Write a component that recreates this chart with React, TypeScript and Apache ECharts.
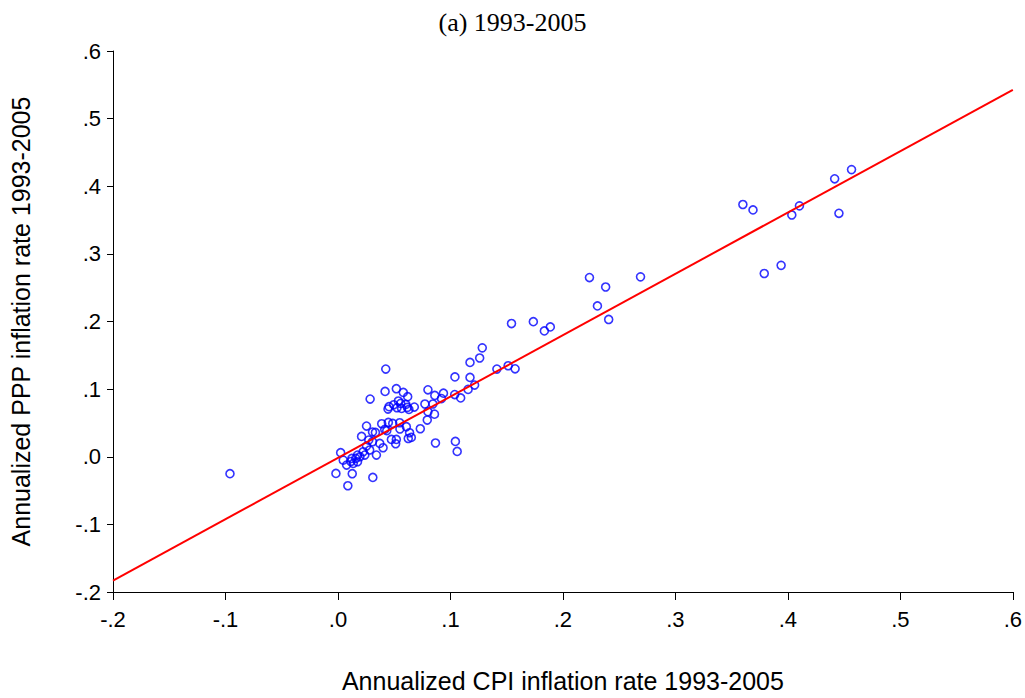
import React, { useEffect, useRef } from "react";
import * as echarts from "echarts";

// Annualized CPI inflation rate (x) vs annualized PPP inflation rate (y), 1993-2005
const cpiRates: number[] = [
  -0.096,
  0.2236, 0.238, 0.2307, 0.2407, 0.269, 0.36, 0.369, 0.379, 0.394, 0.4035, 0.4103, 0.4416, 0.4566, 0.4454,
  0.1543, 0.1737, 0.1835, 0.1888, 0.1283, 0.126, 0.1174, 0.104, 0.1174, 0.1215, 0.1157, 0.1413, 0.1513, 0.1575,
  0.08, 0.0861, 0.0938, 0.1038, 0.1091, 0.092, 0.0773, 0.0844, 0.08, 0.0858, 0.0794, 0.0679, 0.0732, 0.0652,
  0.0867, 0.1044, 0.106, 0.0637, 0.0608,
  0.0425, 0.0286, 0.0419, 0.0519, 0.0581, 0.062, 0.0537, 0.0558, 0.0496, 0.0454, 0.0445, 0.0525, 0.0566,
  0.0617, 0.0631, 0.0604,
  0.0389, 0.0448, 0.0487, 0.0549, 0.0551, 0.0416, 0.0254, 0.0307, 0.0333, 0.021, 0.0274, 0.0307, 0.0372,
  0.0401, 0.0475, 0.0519, 0.0513, 0.0254, 0.0224, 0.0342, 0.0024, 0.0047, 0.0077, 0.0124, 0.0136, 0.0159,
  0.0174, 0.0195, 0.0174, 0.0239, -0.0018, 0.0127, 0.0088, 0.031, 0.0434, 0.0115, 0.0625, 0.0282,
];
const pppRates: number[] = [
  -0.025,
  0.265, 0.251, 0.223, 0.203, 0.266, 0.373, 0.365, 0.271, 0.283, 0.3575, 0.371, 0.411, 0.4246, 0.36,
  0.197, 0.1997, 0.186, 0.192, 0.161, 0.146, 0.1395, 0.118, 0.1173, 0.106, 0.0996, 0.1297, 0.1346, 0.13,
  0.099, 0.0907, 0.094, 0.092, 0.087, 0.086, 0.078, 0.078, 0.0666, 0.063, 0.0543, 0.0735, 0.0414, 0.0286,
  0.0203, 0.0227, 0.0079, 0.0355, 0.0444,
  0.1297, 0.0853, 0.0966, 0.1006, 0.0951, 0.0888, 0.0824, 0.0789, 0.0769, 0.074, 0.0705, 0.0725, 0.0715,
  0.073, 0.07, 0.0774,
  0.0488, 0.0507, 0.0493, 0.0503, 0.041, 0.0404, 0.0454, 0.0365, 0.036, 0.03, 0.0247, 0.0222, 0.0197,
  0.0133, 0.0256, 0.0256, 0.0192, 0.0158, 0.0074, 0.0025, 0.006, -0.005, -0.0123, -0.0025, -0.0099, -0.0025,
  0.0025, 0, -0.0074, 0.0025, -0.0247, -0.0251, -0.0429, -0.0306, 0.0385, -0.007, 0.027, 0.01,
];

// Fitted regression line
const fitIntercept = -0.0016;
const fitSlope = 0.907;
const fitRange: number[] = [-0.2, 0.6];

// Axis ticks
const xTicks: number[] = [-0.2, -0.1, 0, 0.1, 0.2, 0.3, 0.4, 0.5, 0.6];
const yTicks: number[] = [-0.2, -0.1, 0, 0.1, 0.2, 0.3, 0.4, 0.5, 0.6];

const titleText = "(a) 1993-2005";
const xName = "Annualized CPI inflation rate 1993-2005";
const yName = "Annualized PPP inflation rate 1993-2005";

const fmt = (v: number): string => {
  const r = Math.round(v * 10) / 10;
  const s = Math.abs(r).toFixed(1).replace(/^0/, "");
  return (r < 0 ? "-" : "") + s;
};

export default function App() {
  const ref = useRef<HTMLDivElement>(null);
  useEffect(() => {
    if (!ref.current) return;
    const chart = echarts.init(ref.current, undefined, { renderer: "svg" });
    const points = cpiRates.map((x, i) => [x, pppRates[i]]);
    const fitLine = fitRange.map((x) => [x, fitIntercept + fitSlope * x]);
    const sans = "'Liberation Sans', Arial, sans-serif";
    chart.setOption({
      animation: false,
      backgroundColor: "#ffffff",
      title: {
        text: titleText,
        left: "center",
        top: 4,
        textStyle: {
          fontFamily: "'Liberation Serif', 'Times New Roman', serif",
          fontSize: 26,
          fontWeight: "normal",
          color: "#000",
        },
      },
      grid: { left: 112, right: 11, top: 51, bottom: 106, containLabel: false },
      xAxis: {
        type: "value",
        min: xTicks[0],
        max: xTicks[xTicks.length - 1],
        interval: 0.1,
        name: xName,
        nameLocation: "middle",
        nameGap: 76,
        nameTextStyle: { fontFamily: sans, fontSize: 25, color: "#000" },
        axisLine: { show: true, onZero: false, lineStyle: { color: "#000", width: 1 } },
        axisTick: { show: true, length: 8, lineStyle: { color: "#000" } },
        axisLabel: { formatter: fmt, fontFamily: sans, fontSize: 22, color: "#000", margin: 16 },
        splitLine: { show: false },
      },
      yAxis: {
        type: "value",
        min: yTicks[0],
        max: yTicks[yTicks.length - 1],
        interval: 0.1,
        name: yName,
        nameLocation: "middle",
        nameGap: 80,
        nameTextStyle: { fontFamily: sans, fontSize: 25, color: "#000" },
        axisLine: { show: true, onZero: false, lineStyle: { color: "#000", width: 1 } },
        axisTick: { show: true, length: 6, lineStyle: { color: "#000" } },
        axisLabel: { formatter: fmt, fontFamily: sans, fontSize: 22, color: "#000", margin: 12 },
        splitLine: { show: false },
      },
      series: [
        {
          type: "scatter",
          data: points,
          symbol: "circle",
          symbolSize: 8,
          itemStyle: { color: "transparent", borderColor: "#0000ff", borderWidth: 1.6 },
        },
        {
          type: "line",
          data: fitLine,
          showSymbol: false,
          symbol: "none",
          lineStyle: { color: "#ff0000", width: 2 },
          z: 3,
        },
      ],
    });
    return () => chart.dispose();
  }, []);
  return (
    <div
      ref={ref}
      style={{ position: "fixed", left: 0, top: 0, width: 1025, height: 698, background: "#fff" }}
    />
  );
}
